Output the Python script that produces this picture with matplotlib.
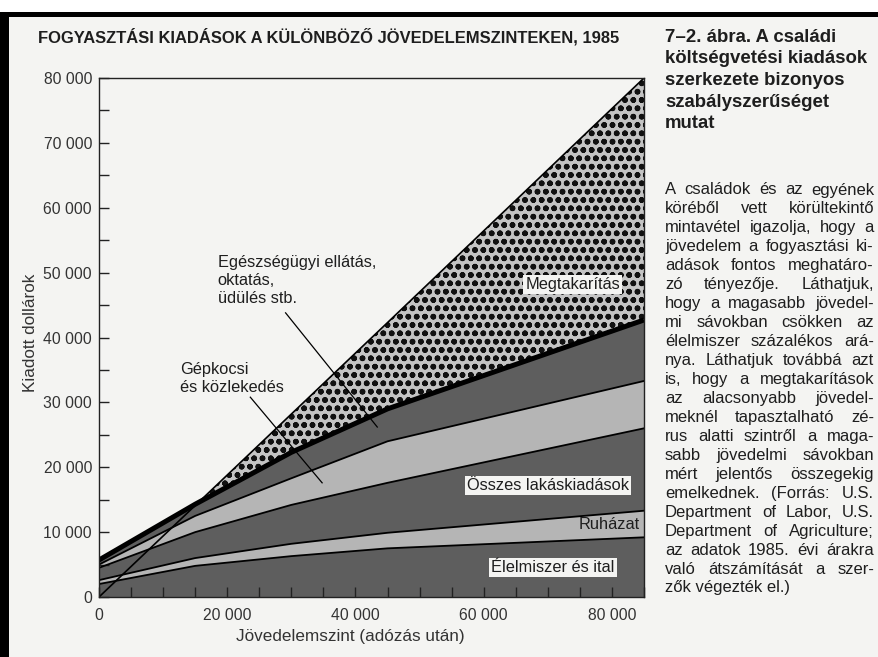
"""Fogyasztási kiadások a különböző jövedelemszinteken, 1985 (7-2. ábra)."""
import matplotlib

matplotlib.use("Agg")
import matplotlib.pyplot as plt
import numpy as np
from matplotlib.font_manager import FontProperties
from matplotlib.patches import Rectangle
from matplotlib.ticker import FuncFormatter, MultipleLocator

W, H = 879, 657
FONT = "Liberation Sans"
plt.rcParams["font.family"] = [FONT, "DejaVu Sans"]
plt.rcParams["hatch.linewidth"] = 1.7

income_level = [0, 15000, 30000, 45000, 85000]
# Cumulative tops of each spending band (dollars)
food_top = [2000, 4800, 6300, 7500, 9200]
clothing_top = [2600, 6000, 8200, 9900, 13300]
housing_top = [4500, 10000, 14200, 17600, 26000]
transport_top = [5000, 12500, 18300, 24000, 33300]
other_top = [5700, 14300, 22300, 29000, 42700]
# Disposable income line (top of savings)
income_line = [0, 14100, 28200, 42300, 80000]

band_labels = ["Élelmiszer és ital", "Ruházat", "Összes lakáskiadások",
               "Gépkocsi\nés közlekedés",
               "Egészségügyi ellátás,\noktatás,\nüdülés stb.", "Megtakarítás"]

caption_title = ["7–2. ábra. A családi", "költségvetési kiadások",
                 "szerkezete bizonyos", "szabályszerűséget", "mutat"]
caption_body = [
    "A családok és az egyének",
    "köréből vett körültekintő",
    "mintavétel igazolja, hogy a",
    "jövedelem a fogyasztási ki-",
    "adások fontos meghatáro-",
    "zó tényezője. Láthatjuk,",
    "hogy a magasabb jövedel-",
    "mi sávokban csökken az",
    "élelmiszer százalékos ará-",
    "nya. Láthatjuk továbbá azt",
    "is, hogy a megtakarítások",
    "az alacsonyabb jövedel-",
    "meknél tapasztalható zé-",
    "rus alatti szintről a maga-",
    "sabb jövedelmi sávokban",
    "mért jelentős összegekig",
    "emelkednek. (Forrás: U.S.",
    "Department of Labor, U.S.",
    "Department of Agriculture;",
    "az adatok 1985. évi árakra",
    "való átszámítását a szer-",
    "zők végezték el.)",
]

DARK = "#5e5e5e"
LIGHT = "#b5b5b5"
PAPER = "#f4f4f2"
INK = "#1e1e1e"


def px(x, y):
    return x / W, 1 - y / H


def text_width(fig, s, size, weight="normal"):
    renderer = fig.canvas.get_renderer()
    prop = FontProperties(family=FONT, size=size, weight=weight)
    return renderer.get_text_width_height_descent(s, prop, ismath=False)[0]


def justified(fig, lines, x0, x1, y0, dy, size):
    for i, line in enumerate(lines):
        fy = 1 - (y0 + i * dy) / H
        words = line.split()
        if i == len(lines) - 1 or len(words) == 1:
            fig.text(x0 / W, fy, line, fontsize=size, color=INK, va="center")
            continue
        widths = [text_width(fig, w, size) for w in words]
        gap = max((x1 - x0 - sum(widths)) / (len(words) - 1), 2.5)
        x = x0
        for w, wd in zip(words, widths):
            fig.text(x / W, fy, w, fontsize=size, color=INK, va="center")
            x += wd + gap


fig = plt.figure(figsize=(W / 100, H / 100), dpi=100, facecolor=PAPER)
ax = fig.add_axes([99 / W, 1 - 597 / H, (644 - 99) / W, (597 - 78) / H])
ax.set_facecolor(PAPER)

x = np.array(income_level, dtype=float)
bounds = [np.zeros_like(x)] + [np.array(b, dtype=float) for b in
                               (food_top, clothing_top, housing_top,
                                transport_top, other_top)]
shades = [DARK, LIGHT, DARK, LIGHT, DARK]
for lo, hi, c in zip(bounds[:-1], bounds[1:], shades):
    ax.fill_between(x, lo, hi, facecolor=c, linewidth=0, zorder=1)
for b in bounds[1:-1]:
    ax.plot(x, b, color="black", lw=1.3, zorder=3)

inc = np.array(income_line, dtype=float)
top = bounds[-1]
ax.fill_between(x, top, inc, where=inc >= top, interpolate=True,
                facecolor="#c4c4c4", hatch="oo", edgecolor="#111111",
                linewidth=0, zorder=2)
ax.plot(x, top, color="black", lw=3.6, zorder=4, solid_capstyle="butt")
ax.plot(x, inc, color="black", lw=1.2, zorder=5)

ax.set_xlim(0, 85000)
ax.set_ylim(0, 80000)
fmt = FuncFormatter(lambda v, _: f"{int(v):,}".replace(",", " "))
ax.xaxis.set_major_locator(MultipleLocator(20000))
ax.xaxis.set_minor_locator(MultipleLocator(5000))
ax.yaxis.set_major_locator(MultipleLocator(10000))
ax.yaxis.set_minor_locator(MultipleLocator(5000))
ax.xaxis.set_major_formatter(fmt)
ax.yaxis.set_major_formatter(fmt)
ax.tick_params(which="both", direction="in", length=7, width=1.0,
               color="#222222", labelsize=11.3, labelcolor="#333333")
ax.tick_params(axis="x", which="major", pad=8)
ax.tick_params(axis="y", which="major", pad=5)
for s in ax.spines.values():
    s.set_color("#222222")
    s.set_linewidth(1.0)
    s.set_zorder(6)

txt = dict(fontsize=11.8, color=INK, zorder=7)
box = dict(boxstyle="square,pad=0.12", facecolor=PAPER, edgecolor="none")
ax.text(70800, 4600, band_labels[0], ha="center", va="center", bbox=box, **txt)
ax.text(84400, 11250, band_labels[1], ha="right", va="center", **txt)
ax.text(70100, 17250, band_labels[2], ha="center", va="center", bbox=box, **txt)
ax.text(12700, 36300, band_labels[3], ha="left", va="top", linespacing=1.25, **txt)
ax.text(18500, 52700, band_labels[4], ha="left", va="top", linespacing=1.25, **txt)
ax.text(73900, 48200, band_labels[5], ha="center", va="center", bbox=box, **txt)

# leader lines from the labels into their bands
ax.plot([23600, 34800], [30800, 17600], color="black", lw=0.9, zorder=7)
ax.plot([29100, 43400], [43800, 26200], color="black", lw=0.9, zorder=7)

fig.text(*px(38, 37), "FOGYASZTÁSI KIADÁSOK A KÜLÖNBÖZŐ JÖVEDELEMSZINTEKEN, 1985",
         fontsize=11.9, fontweight="bold", color=INK, va="center")
fig.text(*px(31, 333), "Kiadott dollárok", rotation=90, ha="center",
         va="center", fontsize=12.3, color="#333333")
fig.text(*px(350, 637), "Jövedelemszint (adózás után)", ha="center",
         va="center", fontsize=12.3, color="#333333")

# caption heading sized so its widest line spans the text column
head_size = 10 * 204 / text_width(fig, caption_title[1], 10, "bold")
for i, line in enumerate(caption_title):
    fig.text(*px(665, 37 + 21.7 * i), line, fontsize=head_size,
             fontweight="bold", color=INK, va="center")
justified(fig, caption_body, 665, 874, 190, 18.95, 12.0)

# scanned page border
fig.patches.append(Rectangle((0, 1 - 12 / H), 1, 12 / H, transform=fig.transFigure,
                             facecolor="white", edgecolor="none", zorder=0))
fig.patches.append(Rectangle((0, 1 - 17 / H), 1, 5 / H, transform=fig.transFigure,
                             facecolor="black", edgecolor="none", zorder=0))
fig.patches.append(Rectangle((0, 0), 9 / W, 1 - 12 / H, transform=fig.transFigure,
                             facecolor="black", edgecolor="none", zorder=0))

fig.savefig("out.png", dpi=100, facecolor=PAPER)
